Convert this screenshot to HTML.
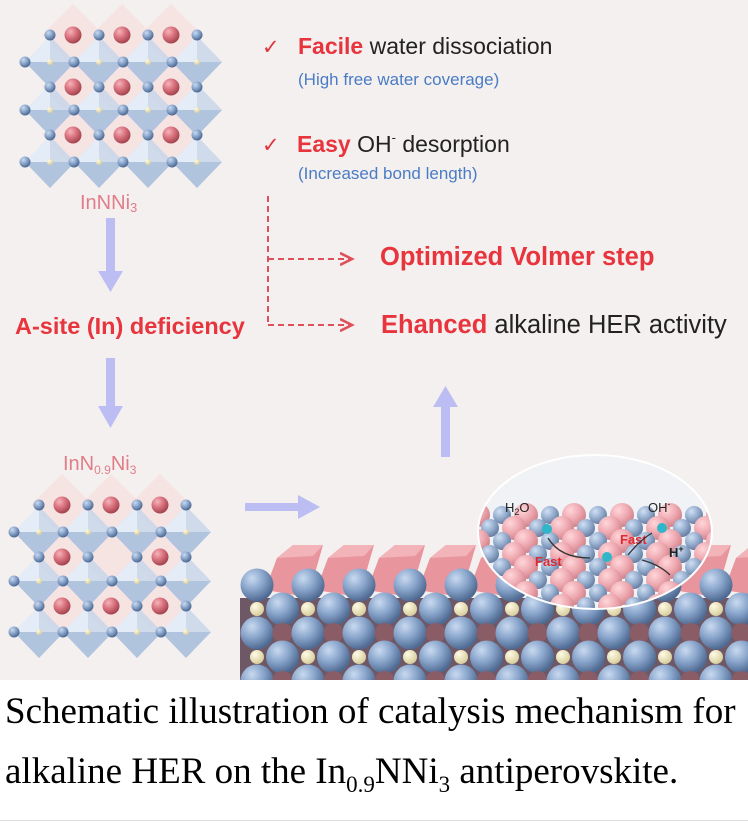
<!DOCTYPE html>
<html><head><meta charset="utf-8"><style>
html,body{margin:0;padding:0;background:#fff;width:748px;height:825px;overflow:hidden}
svg{display:block}
.cap{position:absolute;left:5px;font-family:"Liberation Serif",serif;font-size:37px;color:#000;white-space:nowrap;line-height:44px}
</style></head><body>
<svg id="s" width="748" height="680" viewBox="0 0 748 680" xmlns="http://www.w3.org/2000/svg" style="position:absolute;left:0;top:0">
<defs>
<radialGradient id="gb" cx="35%" cy="30%" r="70%"><stop offset="0" stop-color="#c9daf0"/><stop offset="0.5" stop-color="#8aa6cc"/><stop offset="1" stop-color="#4f6a92"/></radialGradient>
<radialGradient id="gr" cx="35%" cy="30%" r="70%"><stop offset="0" stop-color="#f6b4bb"/><stop offset="0.5" stop-color="#d9737f"/><stop offset="1" stop-color="#a5454f"/></radialGradient>
<radialGradient id="gp" cx="35%" cy="30%" r="70%"><stop offset="0" stop-color="#ffd0d4"/><stop offset="0.6" stop-color="#ea97a0"/><stop offset="1" stop-color="#c9707a"/></radialGradient>
<radialGradient id="gy" cx="35%" cy="30%" r="70%"><stop offset="0" stop-color="#fffbe5"/><stop offset="1" stop-color="#d8cf9e"/></radialGradient>
<clipPath id="lc"><ellipse cx="595" cy="532" rx="117" ry="77"/></clipPath>
<clipPath id="sc"><rect x="240" y="500" width="508" height="180"/></clipPath>
<marker id="ah" markerWidth="8" markerHeight="8" refX="6" refY="4" orient="auto"><path d="M0,1 L6,4 L0,7" fill="none" stroke="#e0505a" stroke-width="1.3"/></marker>
</defs>
<rect width="748" height="680" fill="#f4f0ef"/>
<g id="lat1"></g><g id="lat2"></g>
<g font-family="Liberation Sans, sans-serif">
<text x="262" y="54" font-size="21" fill="#e0343c">✓</text>
<text x="298" y="54" font-size="23" fill="#222"><tspan fill="#e8343c" font-weight="bold">Facile</tspan> water dissociation</text>
<text x="298" y="85" font-size="17" fill="#4a7cc4">(High free water coverage)</text>
<text x="262" y="152" font-size="21" fill="#e0343c">✓</text>
<text x="297" y="152" font-size="23" fill="#222"><tspan fill="#e8343c" font-weight="bold">Easy</tspan> OH<tspan font-size="13" dy="-10">-</tspan><tspan dy="10"> desorption</tspan></text>
<text x="298" y="179" font-size="17" fill="#4a7cc4">(Increased bond length)</text>
<text x="380" y="265" font-size="25.5" font-weight="bold" fill="#e8343c">Optimized Volmer step</text>
<text x="381" y="333" font-size="25.5" fill="#222"><tspan fill="#e8343c" font-weight="bold">Ehanced</tspan> alkaline HER activity</text>
<text x="15" y="334" font-size="23.5" font-weight="bold" fill="#e8343c">A-site (In) deficiency</text>
<text x="80" y="209" font-size="20" fill="#e07d88">InNNi<tspan font-size="13" dy="3">3</tspan></text>
<text x="63" y="470" font-size="20" fill="#e07d88">InN<tspan font-size="12" dy="4">0.9</tspan><tspan dy="-4">Ni</tspan><tspan font-size="12" dy="4">3</tspan></text>
</g>
<g stroke="#e0505a" stroke-width="2" stroke-dasharray="6,4" fill="none">
<path d="M268,196 V325"/>
<path d="M268,259 H352" marker-end="url(#ah)"/>
<path d="M268,325 H352" marker-end="url(#ah)"/>
</g>
<g fill="#bcbdf2">
<rect x="106" y="218" width="9" height="55"/><polygon points="98,271 123,271 110.5,292"/>
<rect x="106" y="358" width="9" height="50"/><polygon points="98,406 123,406 110.5,428"/>
<rect x="245" y="503" width="55" height="8"/><polygon points="298,495 298,519 320,507"/>
<rect x="441" y="405" width="9" height="52"/><polygon points="433,407 458,407 445.5,386"/>
</g>
<g id="slab" clip-path="url(#sc)"></g>
<g id="lens" clip-path="url(#lc)"></g>
<ellipse cx="595" cy="532" rx="117" ry="77" fill="#ffffff" fill-opacity="0.15" stroke="#fff" stroke-width="2"/>
<g font-family="Liberation Sans, sans-serif" font-size="13">
<text x="505" y="512" fill="#222">H<tspan font-size="9" dy="3">2</tspan><tspan dy="-3">O</tspan></text>
<text x="648" y="512" fill="#222">OH<tspan font-size="9" dy="-5">-</tspan></text>
<text x="669" y="557" fill="#222" font-weight="bold">H<tspan font-size="9" dy="-5">+</tspan></text>
<text x="535" y="566" fill="#e02a32" font-weight="bold">Fast</text>
<text x="620" y="544" fill="#e02a32" font-weight="bold">Fast</text>
</g>
<g fill="none" stroke="#333" stroke-width="1.3">
<path d="M548,538 Q560,558 590,558"/><path d="M628,555 Q640,540 652,533"/><path d="M642,560 Q660,565 670,575"/>
</g>
<g fill="#2fb7c9"><circle cx="547" cy="529" r="5"/><circle cx="607" cy="557" r="5"/><circle cx="662" cy="528" r="5"/></g>
</svg>
<div class="cap" style="top:690px">Schematic illustration of catalysis mechanism for</div>
<div class="cap" style="top:750px">alkaline HER on the In<sub style="font-size:23px;vertical-align:-9px">0.9</sub>NNi<sub style="font-size:23px;vertical-align:-9px">3</sub> antiperovskite.</div>
<div style="position:absolute;left:0;top:820px;width:748px;height:1px;background:#ddd"></div>
<script>
var NS="http://www.w3.org/2000/svg";
function el(p,t,a){var e=document.createElementNS(NS,t);for(var k in a)e.setAttribute(k,a[k]);p.appendChild(e);return e;}
function lattice(g,ox,oy,rows,missing){
 var dx=49;
 for(var r=0;r<3;r++)for(var i=0;i<3;i++){var x=ox+48+i*dx,y=oy+rows[2*r];
  el(g,'rect',{x:x-22,y:y-22,width:44,height:44,fill:'#f7dede',opacity:0.7,transform:'rotate(45 '+x+' '+y+')'});}
 for(var r=0;r<3;r++)for(var i=0;i<4;i++){var x=ox+25+i*dx,y=oy+rows[2*r+1];
  el(g,'polygon',{points:(x-25)+','+y+' '+x+','+(y-26)+' '+(x+25)+','+y+' '+x+','+(y+26),fill:'#c8d6ea',opacity:0.85});
  el(g,'polygon',{points:(x-25)+','+y+' '+x+','+(y-26)+' '+x+','+y,fill:'#e6eef8',opacity:0.9});
  el(g,'polygon',{points:(x-25)+','+y+' '+x+','+(y+26)+' '+(x+25)+','+y,fill:'#a9bedb',opacity:0.8});}
 for(var r=0;r<3;r++){var ya=oy+rows[2*r],yb=oy+rows[2*r+1];
  for(var i=0;i<4;i++){el(g,'circle',{cx:ox+25+i*dx,cy:ya,r:5.5,fill:'url(#gb)'});}
  for(var i=0;i<3;i++){if(missing&&r==1&&i==1)continue;el(g,'circle',{cx:ox+48+i*dx,cy:ya,r:8.5,fill:'url(#gr)'});}
  for(var i=0;i<4;i++){el(g,'circle',{cx:ox+i*dx,cy:yb,r:5.5,fill:'url(#gb)'});el(g,'circle',{cx:ox+25+i*dx,cy:yb,r:3,fill:'url(#gy)'});}
 }
}
lattice(document.getElementById('lat1'),25,0,[35,62,87,110,135,162],false);
lattice(document.getElementById('lat2'),14,0,[505,532,557,581,606,632],true);
var s=document.getElementById('slab');
for(var i=0;i<10;i++){var x=283+i*51;
 el(s,'polygon',{points:(x-18)+',590 '+(x-6)+',558 '+(x+10)+',545 '+(x+40)+',545 '+(x+30)+',580 '+(x+12)+',595',fill:'#e8959e'});
 el(s,'polygon',{points:(x-6)+',558 '+(x+10)+',545 '+(x+40)+',545 '+(x+30)+',556',fill:'#f2b3b9'});}
el(s,'rect',{x:240,y:598,width:508,height:82,fill:'#6e5866'});
var rowsY=[585,609,633,657,681];
for(var r=0;r<5;r++){var y=rowsY[r];var off=(r%2)?25.5:0;
 for(var i=0;i<11;i++){var cx=257+off+i*51;
  if(r>0){var mx=cx-25.5;el(s,'circle',{cx:mx,cy:y,r:(r%2)?7:10,fill:(r%2)?'url(#gy)':'#8a5c66'});}
  el(s,'circle',{cx:cx,cy:y,r:16.5,fill:'url(#gb)'});}
}
var lens=document.getElementById('lens');
el(lens,'rect',{x:470,y:450,width:260,height:170,fill:'#eef0f4'});
for(var r=0;r<8;r++)for(var i=0;i<11;i++){var x=478+i*24+(r%2)*12,y=515+r*13;
 var pink=(i+r)%2==0;
 el(lens,'circle',{cx:x,cy:y,r:pink?12:9,fill:pink?'url(#gp)':'url(#gb)'});}
</script>
</body></html>
